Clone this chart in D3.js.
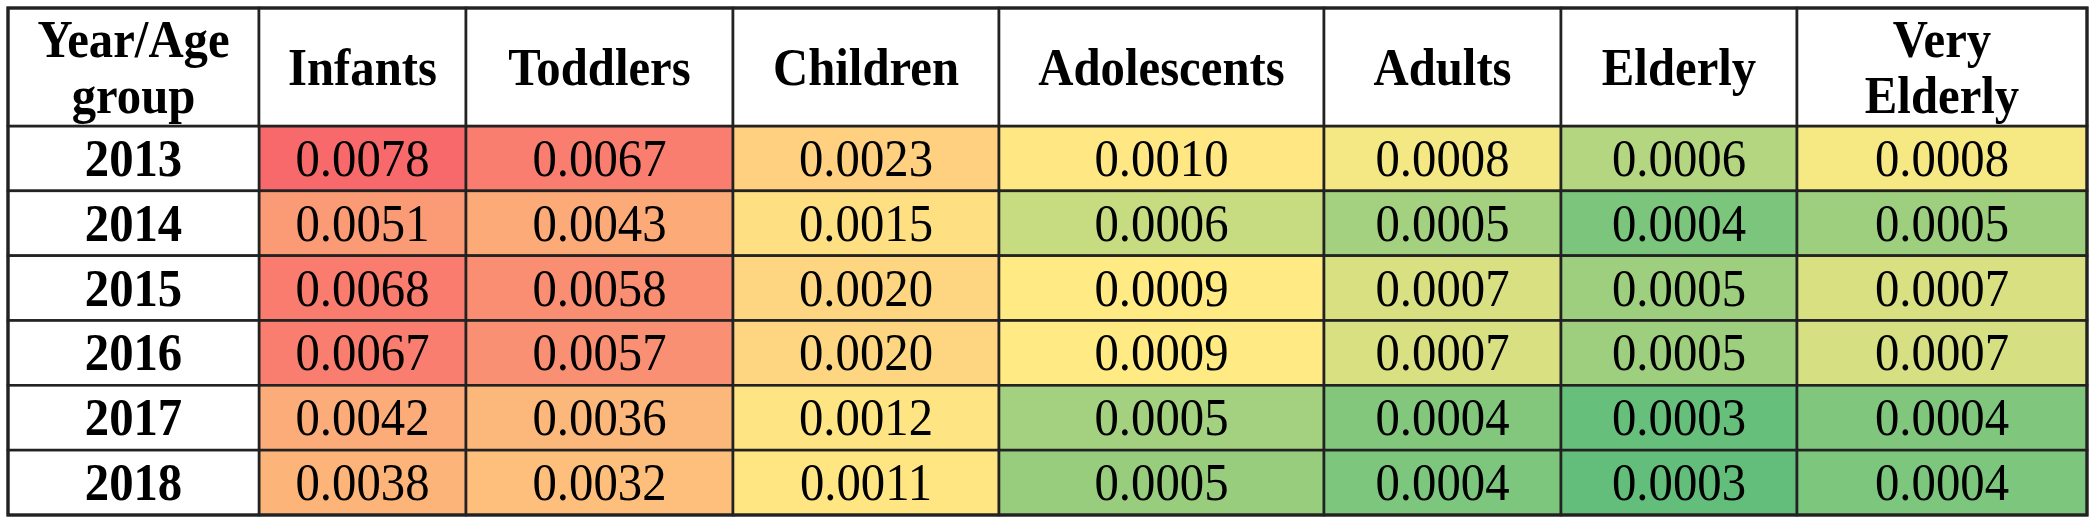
<!DOCTYPE html>
<html>
<head>
<meta charset="utf-8">
<script src="https://cdn.jsdelivr.net/npm/d3@7"></script>
<style>
  html, body { margin: 0; padding: 0; background: #ffffff; }
  svg { display: block; }
</style>
</head>
<body>
<svg id="chart" width="2096" height="524"></svg>
<script>
// ---- data (shown rounded to 4 decimals) ----
const years = ["2013", "2014", "2015", "2016", "2017", "2018"];
const groups = ["Infants", "Toddlers", "Children", "Adolescents", "Adults", "Elderly", "Very Elderly"];
const cornerLabel = "Year/Age group";
const v2013 = [0.0078, 0.0067, 0.0023, 0.0010, 0.00079, 0.00058, 0.00080];
const v2014 = [0.0051, 0.0043, 0.0015, 0.00064, 0.00052, 0.00038, 0.00050];
const v2015 = [0.0068, 0.0058, 0.0020, 0.00086, 0.00070, 0.00050, 0.00070];
const v2016 = [0.0067, 0.0057, 0.0020, 0.00086, 0.00070, 0.00050, 0.00069];
const v2017 = [0.0042, 0.0036, 0.0012, 0.00052, 0.00041, 0.00031, 0.00040];
const v2018 = [0.0038, 0.0032, 0.0011, 0.00048, 0.00039, 0.00030, 0.00039];
const seriesValues = [v2013, v2014, v2015, v2016, v2017, v2018];

// ---- layout ----
const tLeft = 8, tTop = 8, headerH = 118, tBottom = 515;
const colWidths = [251, 207, 267, 266, 325, 237, 236, 290]; // first = year column
const columns = ["__year"].concat(groups);
const colX = {};
let acc = tLeft;
columns.forEach((c, i) => { colX[c] = acc; acc += colWidths[i]; });
const colW = {}; columns.forEach((c, i) => colW[c] = colWidths[i]);
const xScale = d3.scaleOrdinal().domain(columns).range(columns.map(c => colX[c]));

const yScale = d3.scaleBand().domain(years).range([tTop + headerH, tBottom]).paddingInner(0).paddingOuter(0);

const flat = [];
years.forEach((y, ri) => groups.forEach((g, ci) => flat.push({ year: y, group: g, value: seriesValues[ri][ci] })));
const allVals = flat.map(d => d.value);
const color = d3.scaleLinear()
  .domain([d3.min(allVals), d3.median(allVals), d3.max(allVals)])
  .range(["#63BE7B", "#FFEB84", "#F8696B"])
  .interpolate(d3.interpolateRgb)
  .clamp(true);

const svg = d3.select("#chart");
const FONT = "'Liberation Serif', 'Times New Roman', serif";
const FS = 53, SX = 0.92, CAP = 17.5;
const lineColor = "#222222";

// cells
const cells = svg.append("g");
cells.selectAll("rect.cell").data(flat).join("rect")
  .attr("class", "cell")
  .attr("x", d => xScale(d.group))
  .attr("y", d => yScale(d.year))
  .attr("width", d => colW[d.group])
  .attr("height", yScale.bandwidth())
  .attr("fill", d => color(d.value))
  .attr("stroke", lineColor).attr("stroke-width", 2.6);

// year cells
cells.selectAll("rect.yr").data(years).join("rect")
  .attr("class", "yr")
  .attr("x", xScale("__year")).attr("y", d => yScale(d))
  .attr("width", colW["__year"]).attr("height", yScale.bandwidth())
  .attr("fill", "#ffffff").attr("stroke", lineColor).attr("stroke-width", 2.6);

// header cells
cells.selectAll("rect.hd").data(columns).join("rect")
  .attr("class", "hd")
  .attr("x", d => xScale(d)).attr("y", tTop)
  .attr("width", d => colW[d]).attr("height", headerH)
  .attr("fill", "#ffffff").attr("stroke", lineColor).attr("stroke-width", 2.6);

// outer border
svg.append("rect")
  .attr("x", tLeft).attr("y", tTop)
  .attr("width", d3.sum(colWidths)).attr("height", tBottom - tTop)
  .attr("fill", "none").attr("stroke", lineColor).attr("stroke-width", 3.2);

function addText(g, txt, cx, baseline, bold) {
  g.append("text")
    .attr("transform", `translate(${cx},${baseline}) scale(${SX},1)`)
    .attr("text-anchor", "middle")
    .attr("font-family", FONT)
    .attr("font-size", FS)
    .attr("font-weight", bold ? "bold" : "normal")
    .attr("fill", "#000000")
    .text(txt);
}

const texts = svg.append("g");
// header labels
const headerMid = tTop + headerH / 2;
const headerLabels = [cornerLabel].concat(groups);
columns.forEach((c, i) => {
  const cx = xScale(c) + colW[c] / 2;
  const label = headerLabels[i];
  const words = label.split(" ");
  if (words.length === 1) {
    addText(texts, label, cx, headerMid + CAP, true);
  } else {
    addText(texts, words[0], cx, headerMid - 10, true);
    addText(texts, words.slice(1).join(" "), cx, headerMid + 46, true);
  }
});
// year labels
years.forEach(y => {
  addText(texts, y, xScale("__year") + colW["__year"] / 2, yScale(y) + yScale.bandwidth() / 2 + CAP, true);
});
// values
flat.forEach(d => {
  addText(texts, d.value.toFixed(4), xScale(d.group) + colW[d.group] / 2, yScale(d.year) + yScale.bandwidth() / 2 + CAP, false);
});
</script>
</body>
</html>
